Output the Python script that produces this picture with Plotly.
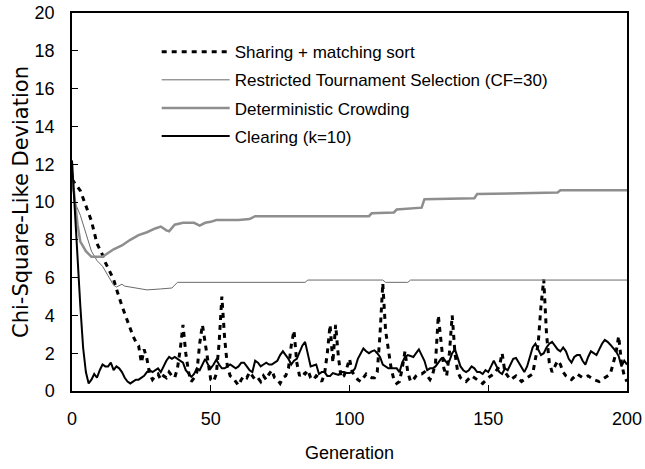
import plotly.graph_objects as go

# ---------------- data ----------------
share_gen = list(range(0, 141)) + [142, 144, 146, 148, 150, 152, 154, 155, 156, 158, 160, 162, 164, 166,
                                   168, 169, 170, 171, 172, 173, 174, 175, 176, 177, 178, 180, 182, 184,
                                   186, 188, 190, 192, 194, 196, 197, 198, 199, 200]
share_val = [11.2, 11.0, 10.8, 10.6, 10.2, 9.8, 9.4, 9.0, 8.4, 7.8, 7.5, 7.2, 6.8, 6.5, 6.2, 5.9, 5.4, 4.9,
             4.5, 4.1, 3.7, 3.2, 2.9, 2.6, 2.4, 1.5, 2.2, 1.7, 0.9, 0.6,
             0.8, 0.9, 0.6, 0.8, 0.7, 1.0, 0.8, 0.7, 1.2, 2.2,
             3.5, 2.0, 1.0, 0.5, 0.7, 1.0, 2.5, 3.5, 2.6, 1.5,
             0.6, 0.5, 0.9, 2.5, 5.0, 2.8, 1.3, 0.8, 0.7, 0.5,
             0.3, 0.6, 0.8, 0.7, 1.0, 0.8, 0.6, 0.7, 0.5, 0.8,
             0.6, 0.9, 1.1, 0.7, 0.6, 0.4, 0.7, 0.8, 1.2, 2.4,
             3.2, 1.5, 0.8, 1.0, 0.9, 1.1, 0.7, 0.6, 0.8, 0.7,
             0.5, 0.9, 2.0, 3.5, 1.5, 3.5, 1.8, 0.7, 0.8, 1.2,
             1.7, 1.0, 0.8, 0.6, 0.5, 0.7, 0.9, 0.8, 0.7, 0.7,
             1.0, 3.0, 5.7, 3.2, 2.2, 1.2, 0.6, 0.4, 0.5, 1.2,
             2.1, 1.0, 0.5, 0.6, 0.8, 0.9, 0.9, 1.0, 0.8, 0.6,
             0.9, 1.5, 4.0, 2.5, 1.2, 0.8, 2.0, 4.0, 2.0, 1.0,
             0.7, 0.5, 0.8, 0.6, 0.4, 0.7, 0.9, 1.3, 2.0, 1.0, 0.6, 0.8, 0.5, 0.7, 0.9,
             2.5, 4.5, 5.9, 3.0, 1.5, 1.0, 1.3, 1.6, 1.4, 1.0, 0.8, 0.6, 0.9, 0.7,
             0.8, 0.6, 0.5, 0.7, 0.9, 2.0, 2.9, 1.5, 0.8, 0.5]

rts_gen = [0, 1, 3, 5, 7, 9, 11, 13, 15, 16, 18, 19, 21, 23, 27, 32, 36, 38, 84, 85, 112, 113, 121, 122, 200]
rts_val = [11.0, 10.0, 9.3, 8.3, 7.4, 6.9, 6.6, 6.1, 5.6, 5.5, 5.65, 5.55, 5.5, 5.45, 5.35, 5.4, 5.45, 5.75,
           5.75, 5.87, 5.87, 5.75, 5.75, 5.87, 5.87]

dc_gen = [0, 1, 2, 3, 5, 7, 9, 11, 13, 15, 18, 21, 24, 27, 30, 32, 34, 35, 37, 40, 44, 46, 48, 50, 52,
          60, 64, 66, 107, 108, 116, 117, 126, 127, 145, 146, 175, 176, 200]
dc_val = [11.5, 10.0, 8.8, 7.9, 7.4, 7.1, 7.1, 7.1, 7.3, 7.5, 7.7, 8.0, 8.25, 8.4, 8.6, 8.7, 8.5, 8.45,
          8.8, 8.9, 8.9, 8.75, 8.9, 8.95, 9.05, 9.05, 9.1, 9.25, 9.25, 9.4, 9.45, 9.6, 9.7, 10.15, 10.2,
          10.42, 10.5, 10.62, 10.62]

clear_gen = list(range(0, 201))
clear_val = [12.2, 9.5, 7.0, 4.5, 2.3, 1.0, 0.4, 0.6, 0.9, 0.7,
             1.1, 1.4, 1.3, 1.3, 1.5, 1.1, 1.3, 1.2, 1.0, 0.7,
             0.5, 0.4, 0.5, 0.6, 0.6, 0.7, 0.8, 1.0, 1.1, 1.0,
             1.1, 1.2, 1.0, 1.3, 1.6, 1.8, 1.7, 1.8, 1.7, 1.6,
             1.5, 1.1, 0.9, 0.75, 0.9, 1.2, 1.1, 1.4, 1.7, 1.4,
             1.2, 1.4, 1.65, 1.4, 1.2, 1.2, 1.3, 1.4, 1.3, 1.2,
             1.3, 1.5, 1.5, 1.3, 1.1, 1.0, 1.6, 1.5, 1.3, 1.4,
             1.5, 1.4, 1.4, 1.5, 1.6, 1.9, 2.1, 1.9, 1.7, 1.4,
             1.6, 1.7, 2.1, 2.4, 2.6, 2.0, 1.3, 1.35, 1.4, 0.9,
             1.0, 1.0, 0.8, 0.8, 0.95, 0.9, 0.85, 1.0, 1.0, 0.95,
             0.95, 1.0, 1.2, 1.7, 2.0, 2.25, 2.1, 2.0, 2.1, 2.15,
             2.0, 1.8, 1.4, 1.3, 1.2, 1.2, 1.2, 1.2, 1.0, 1.5,
             1.8, 1.9, 1.85, 1.8, 2.0, 2.2, 1.9, 1.6, 1.1, 1.2,
             1.2, 1.3, 1.5, 1.7, 1.7, 1.5, 1.6, 2.0, 2.2, 1.7,
             1.3, 1.1, 1.0, 1.1, 1.3, 1.2, 1.0, 1.0, 0.9, 1.1,
             1.0, 1.3, 1.6, 1.3, 1.0, 0.9, 1.2, 1.1, 1.4, 1.7,
             1.75, 1.5, 1.2, 1.0, 1.3, 1.8, 2.3, 2.5, 2.2, 1.9,
             2.0, 2.3, 2.5, 2.6, 2.4, 2.2, 2.1, 2.3, 2.1, 1.7,
             1.5, 1.8, 1.9, 1.9, 1.6, 1.4, 1.8, 2.1, 2.0, 1.9,
             2.2, 2.5, 2.7, 2.6, 2.45, 2.3, 2.1, 1.85, 1.3, 1.6,
             1.4]

series_names = ["Sharing + matching sort", "Restricted Tournament Selection (CF=30)",
                "Deterministic Crowding", "Clearing (k=10)"]
x_ticks = [0, 50, 100, 150, 200]
y_ticks = [0, 2, 4, 6, 8, 10, 12, 14, 16, 18, 20]

FONT = "Liberation Sans, Arial, sans-serif"

fig = go.Figure()
fig.add_trace(go.Scatter(x=share_gen, y=share_val, mode="lines", name=series_names[0], legendgroup="a",
                         line=dict(color="black", width=3, dash="5px,5px")))
fig.add_trace(go.Scatter(x=rts_gen, y=rts_val, mode="lines", name=series_names[1], legendgroup="b",
                         line=dict(color="#6a6a6a", width=1)))
fig.add_trace(go.Scatter(x=dc_gen, y=dc_val, mode="lines", name=series_names[2], legendgroup="c",
                         line=dict(color="#8e8e8e", width=2.5)))
fig.add_trace(go.Scatter(x=clear_gen, y=clear_val, mode="lines", name=series_names[3], legendgroup="d",
                         line=dict(color="black", width=2)))

fig.update_layout(
    width=645, height=469,
    margin=dict(l=72, r=18, t=13, b=78, autoexpand=False),
    paper_bgcolor="white", plot_bgcolor="white",
    font=dict(family=FONT, color="black", size=17),
    showlegend=True,
    legend=dict(x=0.1526, y=0.944, xanchor="left", yanchor="top", bgcolor="rgba(0,0,0,0)",
                borderwidth=0, itemwidth=68, tracegroupgap=3, font=dict(size=17, family=FONT)),
    xaxis=dict(range=[0, 200], tickvals=x_ticks, ticks="inside", ticklen=6, tickcolor="black",
               showline=True, linecolor="black", linewidth=1.5, mirror=True, showgrid=False,
               zeroline=False, automargin=False, ticklabelstandoff=11, tickfont=dict(size=18),
               title=dict(text="Generation", font=dict(size=18), standoff=18)),
    yaxis=dict(range=[0, 20], tickvals=y_ticks, ticks="inside", ticklen=6, tickcolor="black",
               showline=True, linecolor="black", linewidth=1.5, mirror=True, showgrid=False,
               zeroline=False, automargin=False, ticklabelstandoff=12, tickfont=dict(size=18),
               title=dict(text="Chi-Square-Like Deviation",
                          font=dict(size=21, family="DejaVu Sans, Liberation Sans, sans-serif"),
                          standoff=0)),
)

# remove the browser's default page margin so the figure sits at the window's top-left corner
fig.write_html("out.html", config={"displayModeBar": False},
               post_script="document.body.style.margin='0';document.body.style.overflow='hidden';")
